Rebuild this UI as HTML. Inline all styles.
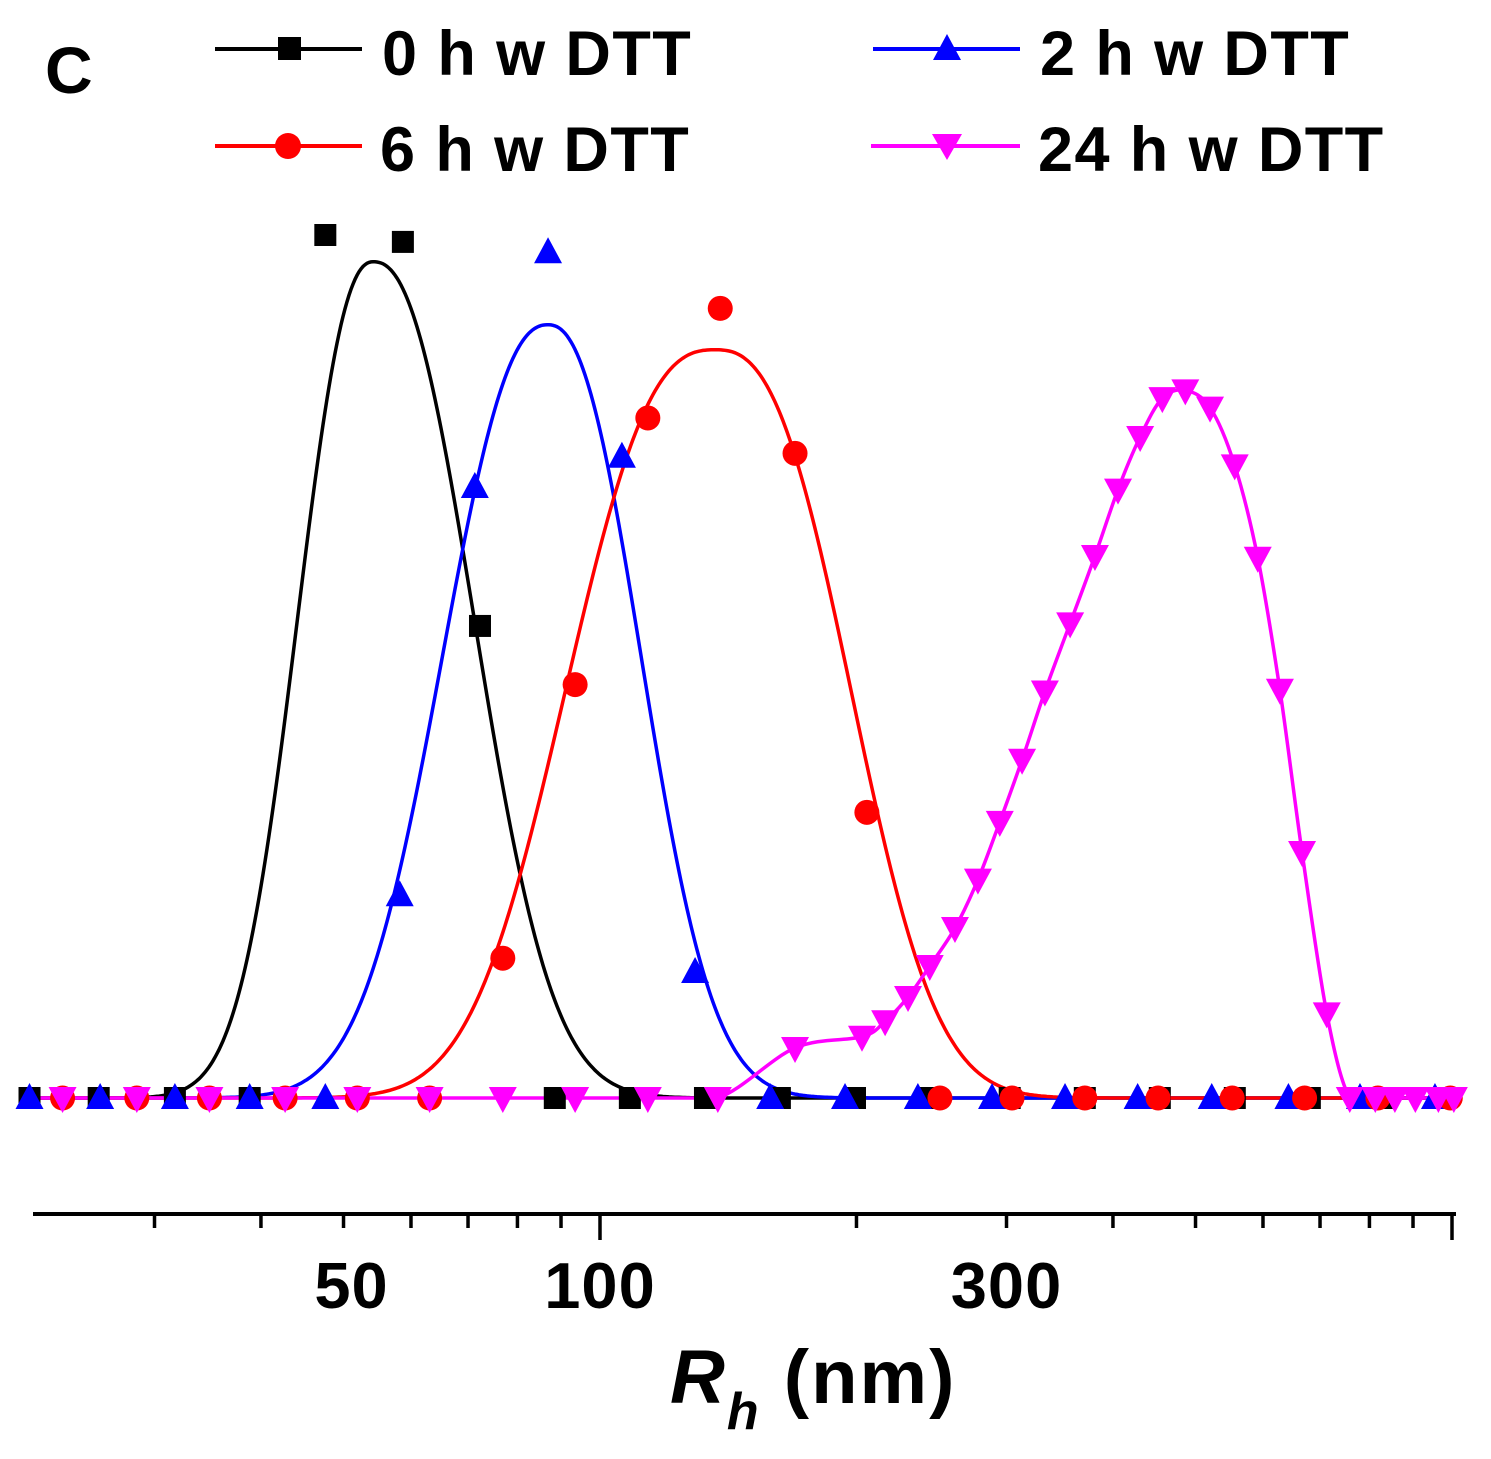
<!DOCTYPE html>
<html><head><meta charset="utf-8">
<style>
html,body{margin:0;padding:0;background:#fff;}
svg{display:block;font-family:"Liberation Sans",Arial,sans-serif;}
</style></head>
<body>
<svg id="chart" width="1491" height="1459" viewBox="0 0 1491 1459" xmlns="http://www.w3.org/2000/svg">
<text x="45" y="93" font-size="66" font-weight="bold">C</text>
<g id="legend" font-size="63" font-weight="bold" letter-spacing="1.4">
 <g>
  <line x1="215" y1="49" x2="362" y2="49" stroke="#000" stroke-width="4"/>
  <rect x="278" y="37" width="23" height="23" fill="#000"/>
  <text x="382" y="75">0 h w DTT</text>
 </g>
 <g>
  <line x1="873" y1="49" x2="1020" y2="49" stroke="#0000ff" stroke-width="4"/>
  <polygon points="947,34 933,60 961,60" fill="#0000ff"/>
  <text x="1040" y="75">2 h w DTT</text>
 </g>
 <g>
  <line x1="215" y1="146" x2="362" y2="146" stroke="#ff0000" stroke-width="4"/>
  <circle cx="288" cy="146" r="13" fill="#ff0000"/>
  <text x="380" y="171">6 h w DTT</text>
 </g>
 <g>
  <line x1="871" y1="146" x2="1020" y2="146" stroke="#ff00ff" stroke-width="4"/>
  <polygon points="932,134 962,134 947,160" fill="#ff00ff"/>
  <text x="1038" y="171">24 h w DTT</text>
 </g>
</g>
<g id="curves"></g>
<g id="markers"></g>
<g id="axis"></g>
<text x="670" y="1403" font-size="76" font-weight="bold" letter-spacing="2"><tspan font-style="italic">R</tspan><tspan font-style="italic" font-size="52" dy="26">h</tspan><tspan dy="-26"> (nm)</tspan></text>
</svg>
<script>
// ---- data ----
const xTickMajor = [100, 1000];
const xTickMinor = [30, 40, 50, 60, 70, 80, 90, 200, 300, 400, 500, 600, 700, 800, 900];
const xTickLabels = [50, 100, 300];

const rh0h = [21.4,25.8,31.7,38.8,47.6,58.7,72.3,88.5,108.4,132.8,162.6,199.2,243.8,302.6,370.7,454,556,681,834];
const val0h = [0,0,0,0,100,99.2,54.7,0,0,0,0,0,0,0,0,0,0,0,0];

const rh2h = [21.4,25.9,31.7,38.8,47.6,58.2,71.3,86.9,106.1,129.3,158.4,193.9,236.1,288.5,351.4,427.6,522.4,642.7,779.8,955.0];
const val2h = [0,0,0,0,0,23.5,70.8,98,74.3,14.6,0,0,0,0,0,0,0,0,0,0];

const rh6h = [23.4,28.6,34.8,42.7,51.9,63.1,76.9,93.5,113.8,138.4,169.4,205.7,250.6,304.5,370.7,451.9,552.1,671.4,818.5,995.4];
const val6h = [0,0,0,0,0,0,16.2,47.9,78.8,91.5,74.7,33.1,0,0,0,0,0,0,0,0];

const rh24h = [23.4,28.6,34.8,42.7,51.9,63.1,76.9,93.5,113.8,137.5,169.4,203.0,216.1,229.9,243.8,261.0,277.7,294.6,312.9,332.8,356.3,381.0,405.5,430.5,457.1,486.4,520.0,555.9,591.6,628.1,666.8,712.9,758.6,812.8,857.0,905.7,963.9,1005];
const val24h = [0,0,0,0,0,0,0,0,0,0,5.8,7.1,8.9,11.7,15.3,19.7,25.3,32.0,39.2,47.1,55.0,62.8,70.5,76.6,81.1,82.0,80.0,73.3,62.6,47.3,28.5,9.8,0,0,0,0,0,0];

// Fit parameters for the fitted curves: center (nm), left/right log10 widths, height, shape exponent
const fitCenter = [54.2, 86.9, 136.5];
const fitSigmaLeft = [0.085, 0.118, 0.163];
const fitSigmaRight = [0.113, 0.104, 0.148];
const fitHeight = [96.9, 89.6, 86.7];
const fitShape = [2.3, 2.3, 2.6];

// ---- scales ----
const X0 = 600, PXDEC = 852;
function xs(v){ return X0 + PXDEC*(Math.log10(v)-2); }
function ys(v){ return 1098 - v*8.63; }
const NS = "http://www.w3.org/2000/svg";
function mk(tag, attrs, parent){
  const e = document.createElementNS(NS, tag);
  for (const k in attrs) e.setAttribute(k, attrs[k]);
  parent.appendChild(e); return e;
}
const curves = document.getElementById('curves');
const markers = document.getElementById('markers');
const axis = document.getElementById('axis');
const colors = ['#000000','#0000ff','#ff0000'];
const fitNames = ['fit-curve-0h','fit-curve-2h','fit-curve-6h'];

for (let i=0;i<3;i++){
  let d='';
  for (let px=33; px<=1455; px+=2){
    const lv = 2 + (px-X0)/PXDEC;
    const dl = lv - Math.log10(fitCenter[i]);
    const z = Math.abs(dl)/(dl<0 ? fitSigmaLeft[i] : fitSigmaRight[i]);
    const v = fitHeight[i]*Math.exp(-0.5*Math.pow(z, fitShape[i]));
    d += (d?'L':'M') + px + ' ' + ys(v).toFixed(1);
  }
  const p = mk('path', {d:d, fill:'none', stroke:colors[i], 'stroke-width':3.5}, curves);
  
  
}
(function(){
  const pts = rh24h.map((r,i)=>[xs(r), ys(val24h[i])]);
  pts.unshift([33, ys(0)]);
  let d = 'M'+pts[0][0]+' '+pts[0][1];
  for (let i=0;i<pts.length-1;i++){
    const p0=pts[Math.max(0,i-1)], p1=pts[i], p2=pts[i+1], p3=pts[Math.min(pts.length-1,i+2)];
    const c1=[p1[0]+(p2[0]-p0[0])/6, p1[1]+(p2[1]-p0[1])/6];
    const c2=[p2[0]-(p3[0]-p1[0])/6, p2[1]-(p3[1]-p1[1])/6];
    d += 'C'+c1[0].toFixed(1)+' '+Math.min(ys(0),c1[1]).toFixed(1)+' '+c2[0].toFixed(1)+' '+Math.min(ys(0),c2[1]).toFixed(1)+' '+p2[0].toFixed(1)+' '+p2[1].toFixed(1);
  }
  d += 'L1455 '+ys(0);
  const p = mk('path', {d:d, fill:'none', stroke:'#ff00ff', 'stroke-width':3.5}, curves);
  
  
})();

rh0h.forEach((r,i)=>{
  const x=xs(r), y=ys(val0h[i]);
  const e = mk('rect', {x:x-11, y:y-11, width:22, height:22, fill:'#000'}, markers);
  
  
});
rh2h.forEach((r,i)=>{
  const x=xs(r), y=ys(val2h[i]);
  const e = mk('polygon', {points:`${x},${y-15} ${x-14},${y+11} ${x+14},${y+11}`, fill:'#0000ff'}, markers);
  
  
});
rh6h.forEach((r,i)=>{
  const x=xs(r), y=ys(val6h[i]);
  const e = mk('circle', {cx:x, cy:y, r:12.5, fill:'#ff0000'}, markers);
  
  
});
rh24h.forEach((r,i)=>{
  const x=xs(r), y=ys(val24h[i]);
  const e = mk('polygon', {points:`${x-14},${y-11} ${x+14},${y-11} ${x},${y+15}`, fill:'#ff00ff'}, markers);
  
  
});

const al = mk('line', {x1:33, y1:1214, x2:1456, y2:1214, stroke:'#000', 'stroke-width':4}, axis);


xTickMinor.forEach(v=>{
  const t = mk('line', {x1:xs(v), y1:1214, x2:xs(v), y2:1228, stroke:'#000', 'stroke-width':3.5}, axis);
  
  
});
xTickMajor.forEach(v=>{
  if (xs(v) > 1457) return;
  const t = mk('line', {x1:xs(v), y1:1214, x2:xs(v), y2:1240, stroke:'#000', 'stroke-width':3.5}, axis);
  
  
});
xTickLabels.forEach(v=>{
  const t = mk('text', {x:xs(v)+(v===50?8:0), y:1308, 'font-size':65, 'font-weight':'bold', 'letter-spacing':1, 'text-anchor':'middle'}, axis);
  t.textContent = v;
  
  
});
</script>
</body></html>
